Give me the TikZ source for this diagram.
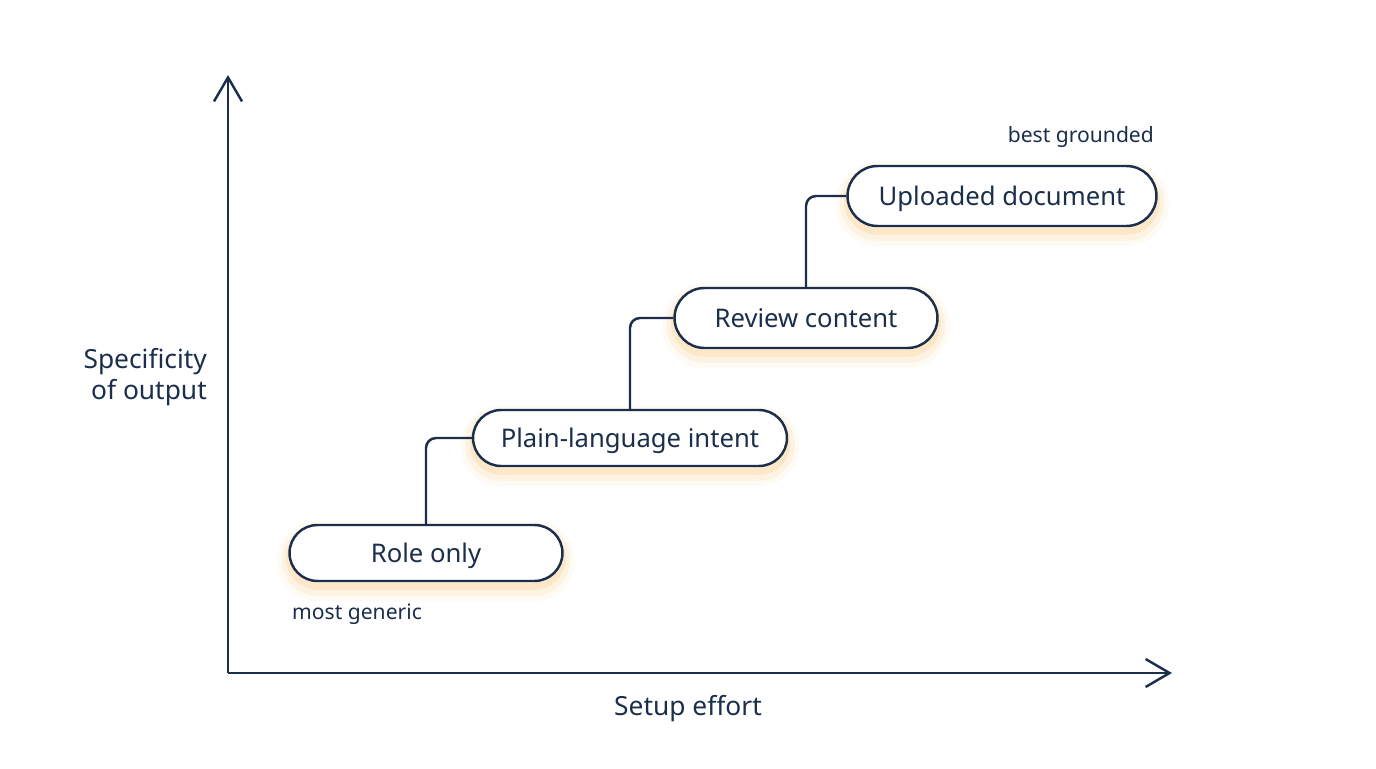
\documentclass[tikz,border=0pt]{standalone}
\usepackage{fontspec}
\setmainfont{Noto Sans}
\definecolor{Ink}{HTML}{1B2E4B}
\definecolor{Glow}{HTML}{F5B041}
\usetikzlibrary{arrows.meta,positioning,shadows}

\begin{document}
\begin{tikzpicture}[x=0.02cm, y=-0.02cm,
    pill/.style={rectangle, rounded corners=0.56cm, draw=Ink, line width=1.4pt, fill=white, text=Ink, minimum height=1.12cm, text depth=0pt, font=\fontsize{14.6}{17}\selectfont,
        general shadow={draw=Glow, line width=14pt, draw opacity=0.06, shadow yshift=-4.5pt},
        general shadow={draw=Glow, line width=9pt, draw opacity=0.1, shadow yshift=-4pt},
        general shadow={draw=Glow, line width=4pt, draw opacity=0.16, shadow yshift=-3pt}},
    link/.style={draw=Ink, line width=1.4pt, rounded corners=0.2cm},
    axis/.style={draw=Ink, line width=1.4pt, -{Straight Barb[length=4.8mm, width=5.6mm]}},
    label/.style={text=Ink, font=\fontsize{15}{18}\selectfont},
    note/.style={text=Ink, font=\fontsize{12}{14}\selectfont},
]
    \useasboundingbox (0,0) rectangle (1376,768);

    % axes
    \coordinate (origin) at (228,673);
    \coordinate (ytip) at (228,75);
    \coordinate (xtip) at (1172,673);
    \draw[axis] (origin) -- (ytip);
    \draw[axis] (origin) -- (xtip);
    \node[label, align=right, anchor=east] (ylabel) at (213,377) {Specificity\\of output};
    \node[label] (xlabel) at (688,709) {Setup effort};

    % steps
    \node[pill, minimum width=5.46cm] (role) at (426,553) {Role only};
    \node[pill, minimum width=6.28cm] (plain) at (630,438) {Plain-language intent};
    \node[pill, minimum width=5.26cm, minimum height=1.2cm, rounded corners=0.6cm] (review) at (806,318) {Review content};
    \node[pill, minimum width=6.18cm, minimum height=1.2cm, rounded corners=0.6cm] (upload) at (1002,196) {Uploaded document};

    \draw[link] (role.north) |- (plain.west);
    \draw[link] (plain.north) |- (review.west);
    \draw[link] (review.north) |- (upload.west);

    \node[note, anchor=west] (generic) at (286,614) {most generic};
    \node[note, anchor=east] (grounded) at (1160,137) {best grounded};
\end{tikzpicture}
\end{document}
